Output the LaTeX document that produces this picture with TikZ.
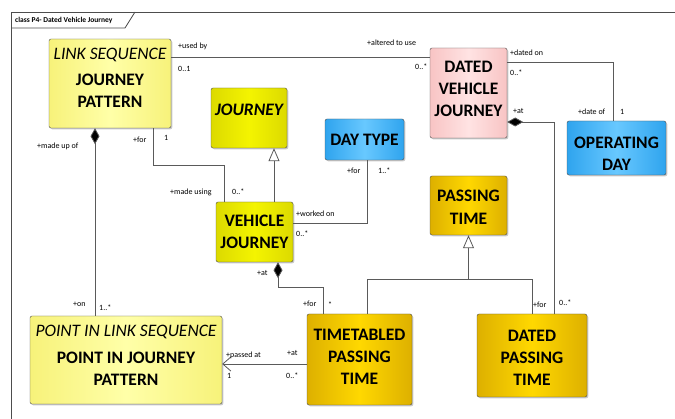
\documentclass[tikz,border=0pt]{standalone}
\usepackage{fontspec}
\setmainfont{Carlito}
\usepackage{tikz}
\usetikzlibrary{arrows.meta, calc, shadows, positioning}

\definecolor{boxline}{HTML}{4D4D4D}
\definecolor{linegray}{HTML}{5A5A5A}
\definecolor{paleedge}{HTML}{F7F27A}
\definecolor{palemid}{HTML}{FFFFA8}
\definecolor{yelledge}{HTML}{DCDA00}
\definecolor{yellmid}{HTML}{F4F400}
\definecolor{goldedge}{HTML}{DDB000}
\definecolor{goldmid}{HTML}{FFD800}
\definecolor{pinkedge}{HTML}{F8C4C4}
\definecolor{pinkmid}{HTML}{FFE3E3}
\definecolor{blueedge}{HTML}{2FA4EE}
\definecolor{bluemid}{HTML}{68C8FF}

\tikzset{
    classbox/.style={draw=boxline, rounded corners=2pt, inner sep=0pt,
        drop shadow={shadow xshift=1.3pt, shadow yshift=-1.3pt, fill=black!35, opacity=.6}},
    classname/.style={align=center, inner sep=0pt,
        font=\bfseries\fontsize{17.5}{22}\selectfont},
    paleclass/.style={classbox, left color=paleedge, right color=paleedge, middle color=palemid},
    yellclass/.style={classbox, left color=yelledge, right color=yelledge, middle color=yellmid},
    goldclass/.style={classbox, left color=goldedge, right color=goldedge, middle color=goldmid},
    pinkclass/.style={classbox, left color=pinkedge, right color=pinkedge, middle color=pinkmid},
    blueclass/.style={classbox, left color=blueedge, right color=blueedge, middle color=bluemid},
    role/.style={font=\fontsize{8}{9}\selectfont, inner sep=0pt, anchor=west},
    assoc/.style={draw=linegray, line width=0.8pt},
    compose/.style={assoc, arrows={Diamond[length=16pt, width=9pt, fill=black]-}},
    generalize/.style={assoc, arrows={-Triangle[open, length=13pt, width=11pt, fill=white]}},
    navigable/.style={assoc, arrows={-Straight Barb[length=8pt, width=14pt]}}
}

\begin{document}
\begin{tikzpicture}[x=1pt, y=-1pt]
    \useasboundingbox (0,0) rectangle (675,419);
    \clip (0,0) rectangle (675,419);

    % diagram frame
    \draw[boxline, line width=0.8pt] (11,440) -- (11,12) -- (700,12);
    \draw[boxline, line width=0.8pt] (11,28) -- (125,28) -- (135,12);
    \node[anchor=west, inner sep=0pt, font=\bfseries\fontsize{7.5}{9}\selectfont] (title) at (15,20.5) {class P4- Dated Vehicle Journey};

    % classes
    \node[paleclass, minimum width=122pt, minimum height=89pt,
        label={[name=jp-name, classname, yshift=6pt]center:{{\normalfont\itshape LINK SEQUENCE}\\[4pt] JOURNEY\\ PATTERN}}]
        (jp) at (110,83.5) {};
    \node[yellclass, minimum width=76pt, minimum height=60pt,
        label={[name=journey-name, classname, yshift=8pt]center:{\itshape JOURNEY}}]
        (journey) at (249,118) {};
    \node[blueclass, minimum width=79pt, minimum height=41pt,
        label={[name=daytype-name, classname]center:DAY TYPE}]
        (daytype) at (364.5,139.5) {};
    \node[pinkclass, minimum width=77pt, minimum height=90pt,
        label={[name=dvj-name, classname, yshift=4pt]center:{DATED\\ VEHICLE\\ JOURNEY}}]
        (dvj) at (468.5,93) {};
    \node[blueclass, minimum width=99pt, minimum height=54pt,
        label={[name=opday-name, classname, yshift=-5.5pt]center:{OPERATING\\ DAY}}]
        (opday) at (616.5,148) {};
    \node[goldclass, minimum width=77pt, minimum height=59pt,
        label={[name=passtime-name, classname, yshift=-2pt]center:{PASSING\\[1pt] TIME}}]
        (passtime) at (468.5,205.5) {};
    \node[yellclass, minimum width=77pt, minimum height=60pt,
        label={[name=vj-name, classname]center:{VEHICLE\\ JOURNEY}}]
        (vj) at (254.5,232) {};
    \node[paleclass, minimum width=192pt, minimum height=88pt,
        label={[name=pijp-name, classname, yshift=5pt]center:{{\normalfont\itshape POINT IN LINK SEQUENCE}\\[5pt] POINT IN JOURNEY\\ PATTERN}}]
        (pijp) at (126,360) {};
    \node[goldclass, minimum width=105pt, minimum height=91pt,
        label={[name=tpt-name, classname, yshift=3pt]center:{TIMETABLED\\ PASSING\\ TIME}}]
        (tpt) at (359.5,359.5) {};
    \node[goldclass, minimum width=110pt, minimum height=83pt,
        label={[name=dpt-name, classname, yshift=-2pt]center:{DATED\\ PASSING\\ TIME}}]
        (dpt) at (532,355.5) {};

    % associations
    \draw[assoc] (jp.east |- 0,57) -- (dvj.west |- 0,57);
    \draw[assoc] (dvj.east |- 0,62) -| (opday.north -| 613,0);
    \draw[compose] (dvj.east |- 0,122) -| (dpt.north -| 554,0);
    \draw[assoc] (jp.south -| 153,0) -- ++(0,37) -| (vj.north -| 224,0);
    \draw[assoc] (daytype.south -| 367,0) |- (vj.east |- 0,223);
    \draw[compose] (jp.south -| 95,0) -- (pijp.north -| 95,0);
    \draw[compose] (vj.south -| 278,0) -- ++(0,25) -| (tpt.north -| 323,0);
    \draw[navigable] (tpt.west |- 0,364) -- (pijp.east |- 0,364);

    % generalisations
    \draw[generalize] (vj.north -| 274,0) -- (journey.south -| 274,0);
    \draw[assoc] (tpt.north -| 367,0) |- (dpt.north |- 0,279) -- (dpt.north);
    \draw[generalize] (passtime.south |- 0,279) -- (passtime.south);

    % role names and multiplicities
    \node[role] (usedby) at (178,46) {+used by};
    \node[role] (jpmult) at (178,69) {0..1};
    \node[role] (altered) at (367,43) {+altered to use};
    \node[role] (dvjmult) at (415,67) {0..*};
    \node[role] (datedon) at (510,53) {+dated on};
    \node[role] (datedmult) at (510,73) {0..*};
    \node[role] (dateof) at (578,112) {+date of};
    \node[role] (opdaymult) at (620,112) {1};
    \node[role] (dvjat) at (513,111) {+at};
    \node[role] (dayfor) at (347,171) {+for};
    \node[role] (daymult) at (378,171) {1..*};
    \node[role] (workedon) at (296,214) {+worked on};
    \node[role] (workedmult) at (296,234) {0..*};
    \node[role] (jpfor) at (133,140) {+for};
    \node[role] (jpone) at (164,138) {1};
    \node[role] (madeusing) at (170,192) {+made using};
    \node[role] (usingmult) at (232,192) {0..*};
    \node[role] (madeupof) at (37,146) {+made up of};
    \node[role] (pijpon) at (73,304) {+on};
    \node[role] (pijpmult) at (99,308) {1..*};
    \node[role] (vjat) at (257,273) {+at};
    \node[role] (tptfor) at (303,304) {+for};
    \node[role] (tptmult) at (328,305) {*};
    \node[role] (passedat) at (226,355) {+passed at};
    \node[role] (passedone) at (227,376) {1};
    \node[role] (tptat) at (287,353) {+at};
    \node[role] (tptatmult) at (286,376) {0..*};
    \node[role] (dptfor) at (533,305) {+for};
    \node[role] (dptmult) at (559,303) {0..*};
\end{tikzpicture}
\end{document}
